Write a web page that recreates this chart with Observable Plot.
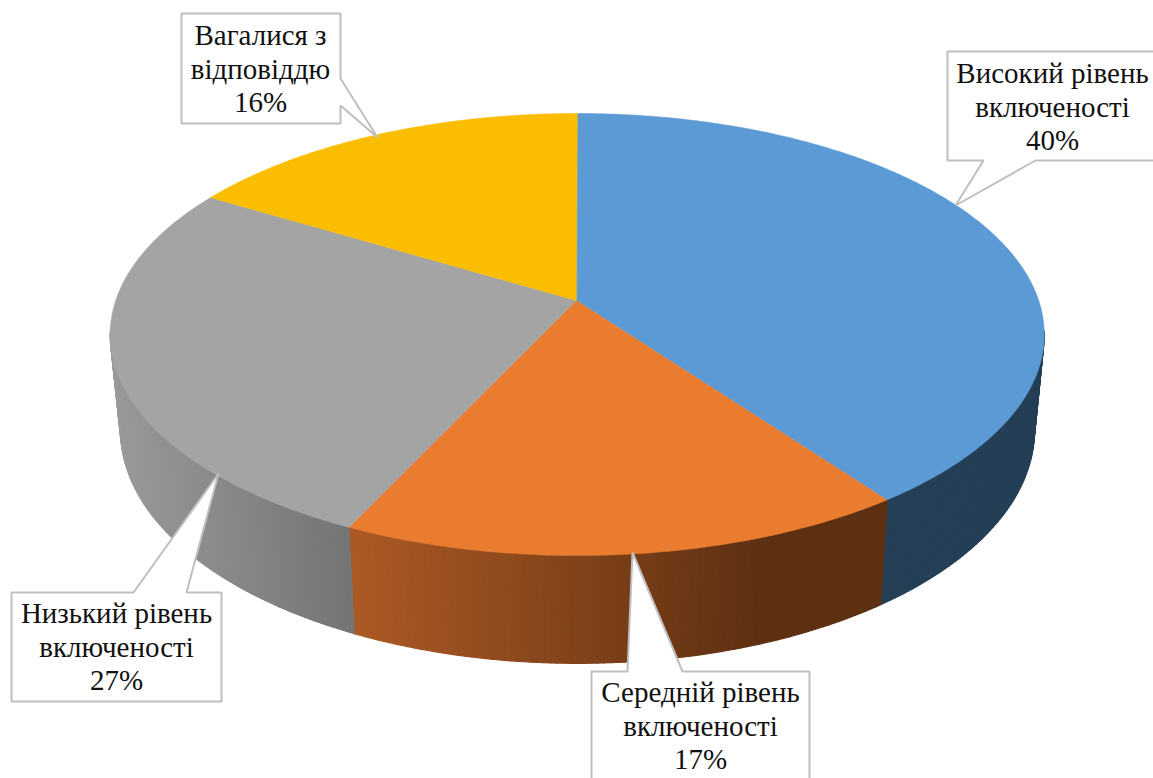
<!DOCTYPE html>
<html lang="uk">
<head>
<meta charset="utf-8">
<style>
html,body{margin:0;padding:0;background:#fff;overflow:hidden}
svg{display:block}
</style>
<script src="https://cdn.jsdelivr.net/npm/d3@7"></script>
<script src="https://cdn.jsdelivr.net/npm/@observablehq/plot@0.6"></script>
</head>
<body>
<script>
// Data (shares; labels show them rounded)
const names = ["Високий рівень\nвключеності", "Середній рівень\nвключеності", "Низький рівень\nвключеності", "Вагалися з\nвідповіддю"];
const shares = [40, 17, 26.6, 16.4];

// Style
const topColors = ["#5B9AD5", "#EA7C30", "#A4A4A4", "#FBBD00"];
const wallStart = ["#243F56", "#AD5A24", "#9A9A9A", "#9A7300"];
const wallEnd = ["#243F56", "#5E3012", "#747474", "#9A7300"];
const wallSpan = [[880, 1040], [350, 760], [112, 355], [210, 576]];

// Layout: perspective disc geometry and callout boxes
const W = 1153, H = 778, K = 0.1538;
const topDisc = {cx: 576.7, ax: 575.7, cy: 300, rx: 461.5, sy: 215.8};
const baseDisc = {cx: 577, cy: 394, rx: 451.5, sy: 227.5};
const callouts = [
  {box: [947, 51, 1158, 160], side: "bottom", tail: [[1035, 160], [955, 205], [983, 160]], tx: 1052, ty: 105.5},
  {box: [591, 671, 809, 790], side: "top", tail: [[627, 671], [632, 552], [682, 671]], tx: 700, ty: 724.5},
  {box: [11, 592, 221, 701], side: "top", tail: [[133, 592], [218, 473], [186, 592]], tx: 116, ty: 645.5},
  {box: [181, 13, 340, 123], side: "right", tail: [[340, 78], [377, 137], [340, 105]], tx: 260, ty: 67.5}
];

const project = (d, f) => {
  const a = f * 2 * Math.PI, u = Math.sin(a), v = -Math.cos(a), q = 1 - K * v;
  return [d.cx + d.rx * u / q, d.cy + d.sy * v / q];
};

// Cumulative fractions from the shares
const total = d3.sum(shares);
const edges = [0];
shares.forEach(s => edges.push(edges[edges.length - 1] + s / total));

// Side wall: thin strips per slice on the visible front, shaded left to right
const strips = [];
shares.forEach((s, i) => {
  const n = Math.ceil(s * 5), ramp = d3.interpolateRgb(wallStart[i], wallEnd[i]);
  const [x0, x1] = wallSpan[i];
  for (let j = 0; j < n; j++) {
    const f0 = edges[i] + (edges[i + 1] - edges[i]) * j / n;
    const f1 = edges[i] + (edges[i + 1] - edges[i]) * (j + 1) / n;
    if (-Math.cos((f0 + f1) * Math.PI) < K - 0.02) continue;
    const pts = [project(topDisc, f0), project(topDisc, f1), project(baseDisc, f1), project(baseDisc, f0)];
    const mid = d3.mean(pts, p => p[0]);
    const c = ramp(Math.max(0, Math.min(1, (mid - x0) / (x1 - x0))));
    pts.forEach(p => strips.push({x: p[0], y: p[1], id: `${i}-${j}`, c}));
  }
});

// Top face slices
const faces = [];
shares.forEach((s, i) => {
  const n = Math.ceil(s * 5);
  faces.push({x: topDisc.ax, y: topDisc.cy, id: i, c: topColors[i]});
  for (let j = 0; j <= n; j++) {
    const p = project(topDisc, edges[i] + (edges[i + 1] - edges[i]) * j / n);
    faces.push({x: p[0], y: p[1], id: i, c: topColors[i]});
  }
});

// Callout outlines
const outlines = [];
callouts.forEach((c, i) => {
  const [x0, y0, x1, y1] = c.box;
  const ring = [[x0, y0]];
  if (c.side === "top") ring.push(...c.tail);
  ring.push([x1, y0]);
  if (c.side === "right") ring.push(...c.tail);
  ring.push([x1, y1]);
  if (c.side === "bottom") ring.push(...c.tail);
  ring.push([x0, y1], [x0, y0]);
  ring.forEach(p => outlines.push({x: p[0], y: p[1], id: i}));
});

const labels = names.map((n, i) => ({
  text: `${n}\n${Math.round(shares[i])}%`, x: callouts[i].tx, y: callouts[i].ty
}));

const chart = Plot.plot({
  width: W, height: H,
  marginTop: 0, marginRight: 0, marginBottom: 0, marginLeft: 0,
  x: {domain: [0, W], range: [0, W], axis: null},
  y: {domain: [0, H], range: [0, H], axis: null},
  color: {type: "identity"},
  style: {background: "#fff"},
  marks: [
    Plot.line(strips, {x: "x", y: "y", z: "id", fill: "c", stroke: "c", strokeWidth: 1.2, curve: "linear-closed"}),
    Plot.line(faces, {x: "x", y: "y", z: "id", fill: "c", stroke: "c", strokeWidth: 0.5, curve: "linear-closed"}),
    Plot.line(outlines, {x: "x", y: "y", z: "id", fill: "white", stroke: "#BFBFBF", strokeWidth: 2, strokeLinejoin: "miter", curve: "linear"}),
    Plot.text(labels, {x: "x", y: "y", text: "text", fontFamily: "Liberation Serif", fontSize: 29, lineHeight: 1.155, fill: "#111", textAnchor: "middle"})
  ]
});
document.body.appendChild(chart);
</script>
</body>
</html>
